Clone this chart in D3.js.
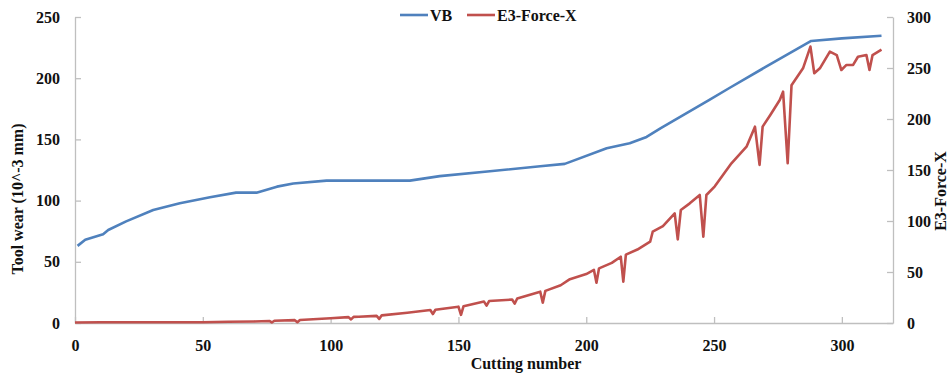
<!DOCTYPE html>
<html lang="en">
<head>
    <meta charset="UTF-8">
    <title>Tool wear vs E3-Force-X</title>
    <script src="https://cdn.jsdelivr.net/npm/d3@7"></script>
    <style>
        body { margin: 0; background: #fff; }
        #chart { width: 951px; height: 378px; }
        text { font-family: "Liberation Serif", "Times New Roman", serif; font-weight: bold; fill: #111; }
    </style>
</head>
<body>
<div id="chart"></div>
<script>

    // Tool wear (VB), left axis
    const vbCut = [1, 4, 11, 13, 20, 30.6, 41, 52.8, 63, 71, 79, 85.4, 98.4, 110, 131, 142.7, 162.3, 182, 191.6, 208, 217, 223.6, 229, 248, 256, 270, 288, 300, 315.5];
    const vbWear = [63, 68, 72.5, 76, 83, 92.3, 97.8, 102.7, 106.5, 106.5, 111.4, 114, 116.3, 116.3, 116.3, 120, 124, 128, 130, 142.7, 146.8, 152, 159, 182, 192, 209, 230.4, 232.5, 234.7];

    // E3-Force-X, right axis
    const fCut = [0, 10, 20, 30, 40, 50, 60, 70, 76, 77, 78, 86, 87, 88, 100, 107, 108, 109, 111, 118, 119, 120, 130, 139, 140, 141, 150, 151, 152, 160, 161, 162, 171, 172, 173, 182, 183, 184, 190, 193.6, 200, 203, 204, 205, 210, 213.5, 214.5, 215.5, 220, 225, 226, 230, 234.6, 235.8, 237, 240.5, 244.4, 245.8, 247, 250.3, 256.8, 262.7, 266, 267.8, 269, 272, 275.7, 277, 278.8, 280.3, 284.8, 287.7, 289.2, 291.4, 295.3, 298, 299.8, 301.8, 304.4, 306.3, 309.6, 310.8, 312, 315.5];
    const fVal = [0.5, 0.8, 0.8, 0.8, 0.8, 0.8, 1.2, 1.5, 2, 0.5, 2.2, 2.8, 0.8, 3, 4.6, 5.8, 3.5, 6, 6.2, 7, 4, 7.5, 10, 12.7, 8.8, 13, 16, 8, 16.5, 21, 17, 21.5, 23, 19, 24, 30.7, 20, 31.5, 37, 43, 48, 52, 39.5, 53.6, 59, 65, 40.5, 67, 72, 79.7, 89.5, 95, 107.5, 82, 110.8, 117.3, 125.5, 84.6, 125.5, 134, 156.6, 172.8, 192.5, 155, 192.5, 204, 218.6, 226.8, 156.6, 233, 249.7, 271, 244.8, 249.7, 266, 262.7, 248, 253, 253, 261, 262.7, 248, 262.7, 268];

    const xTicks = [0, 50, 100, 150, 200, 250, 300];
    const leftTicks = [0, 50, 100, 150, 200, 250];
    const rightTicks = [0, 50, 100, 150, 200, 250, 300];

    const width = 951, height = 378;
    const margin = {top: 17, right: 58, bottom: 55, left: 75};
    const axisColor = "#bfbfbf";
    const blue = "#4f81bd", red = "#c0504d";

    const svg = d3.select("#chart").append("svg")
        .attr("width", width)
        .attr("height", height);

    const x = d3.scaleLinear().domain([0, 320]).range([margin.left, width - margin.right]);
    const yL = d3.scaleLinear().domain([0, 250]).range([height - margin.bottom, margin.top]);
    const yR = d3.scaleLinear().domain([0, 300]).range([height - margin.bottom, margin.top]);

    // axes, ticks drawn inward
    const xAxis = svg.append("g")
        .attr("transform", `translate(0,${height - margin.bottom})`)
        .call(d3.axisBottom(x).tickValues(xTicks).tickSize(-6).tickPadding(14).tickSizeOuter(0));
    const leftAxis = svg.append("g")
        .attr("transform", `translate(${margin.left},0)`)
        .call(d3.axisLeft(yL).tickValues(leftTicks).tickSize(-6).tickPadding(15).tickSizeOuter(0));
    const rightAxis = svg.append("g")
        .attr("transform", `translate(${width - margin.right},0)`)
        .call(d3.axisRight(yR).tickValues(rightTicks).tickSize(-6).tickPadding(14).tickSizeOuter(0));

    [xAxis, leftAxis, rightAxis].forEach(a => {
        a.select(".domain").attr("stroke", axisColor).attr("stroke-width", 1.3);
        a.selectAll(".tick line").attr("stroke", axisColor).attr("stroke-width", 1.3);
        a.selectAll(".tick text")
            .attr("font-family", "Liberation Serif, serif")
            .attr("font-weight", "bold")
            .attr("font-size", 16)
            .attr("fill", "#111");
    });
    xAxis.selectAll(".tick text").attr("dy", "0.9em");

    // series
    const vbData = vbCut.map((c, i) => [c, vbWear[i]]);
    const fData = fCut.map((c, i) => [c, fVal[i]]);

    svg.append("path")
        .datum(fData)
        .attr("fill", "none")
        .attr("stroke", red)
        .attr("stroke-width", 2.6)
        .attr("stroke-linejoin", "round")
        .attr("d", d3.line().x(d => x(d[0])).y(d => yR(d[1])));

    svg.append("path")
        .datum(vbData)
        .attr("fill", "none")
        .attr("stroke", blue)
        .attr("stroke-width", 2.6)
        .attr("stroke-linejoin", "round")
        .attr("d", d3.line().x(d => x(d[0])).y(d => yL(d[1])));

    // axis titles
    svg.append("text")
        .attr("transform", "translate(23,199) rotate(-90)")
        .attr("text-anchor", "middle")
        .attr("font-size", 16)
        .text("Tool wear (10^-3 mm)");

    svg.append("text")
        .attr("transform", "translate(946,191) rotate(-90)")
        .attr("text-anchor", "middle")
        .attr("font-size", 16)
        .text("E3-Force-X");

    svg.append("text")
        .attr("x", 526)
        .attr("y", 369)
        .attr("text-anchor", "middle")
        .attr("font-size", 16)
        .text("Cutting number");

    // legend
    const legend = [
        {name: "VB", color: blue, x: 400},
        {name: "E3-Force-X", color: red, x: 467}
    ];
    const lg = svg.append("g").selectAll("g").data(legend).join("g")
        .attr("transform", d => `translate(${d.x},15)`);
    lg.append("line")
        .attr("x1", 0).attr("x2", 28)
        .attr("stroke", d => d.color)
        .attr("stroke-width", 2.6);
    lg.append("text")
        .attr("x", 30)
        .attr("y", 5.5)
        .attr("font-size", 16)
        .text(d => d.name);

</script>
</body>
</html>
